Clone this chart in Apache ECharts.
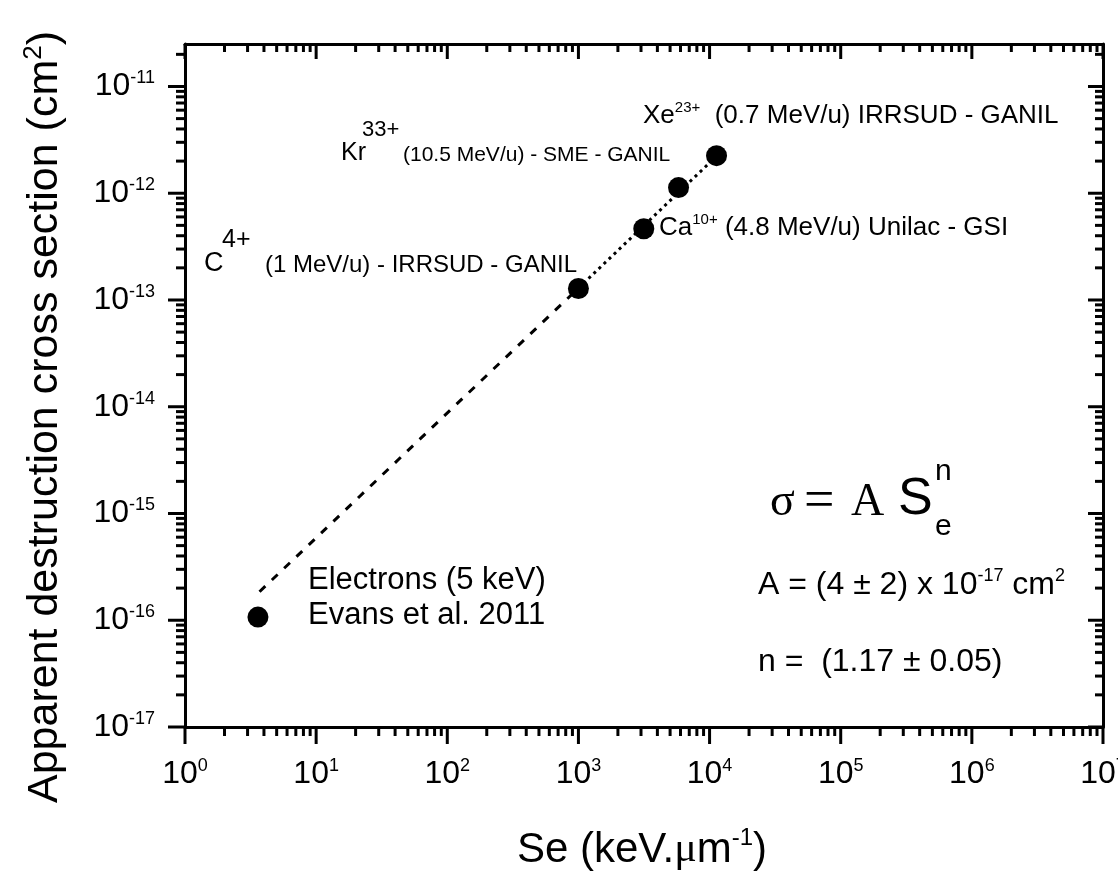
<!DOCTYPE html>
<html>
<head>
<meta charset="utf-8">
<script src="https://cdn.jsdelivr.net/npm/echarts@6/dist/echarts.min.js"></script>
<style>
html, body { margin: 0; padding: 0; background: #fff; }
#main { width: 1118px; height: 879px; }
</style>
</head>
<body>
<div id="main"></div>
<script>
// data
var electronSe = [3.6];
var electronSigma = [1.07e-16];
var ionSe = [1000, 3150, 5800, 11300];
var ionSigma = [1.28e-13, 4.65e-13, 1.13e-12, 2.25e-12];
// fit line  sigma = A Se^n  (end points)
var fitDashSe = [3.7, 1000];
var fitDashSigma = [1.85e-16, 1.29e-13];
var fitDotSe = [1000, 11200];
var fitDotSigma = [1.29e-13, 2.2e-12];
var xRange = [1, 1e7];
var yRange = [1e-17, 2.5e-11];

var FONT = 'Liberation Sans';
var SERIF = 'Liberation Serif';

function pairs(xs, ys) {
    return xs.map(function (x, i) { return [x, ys[i]]; });
}
function isDecade(v) {
    var e = Math.log10(v);
    return Math.abs(e - Math.round(e)) < 1e-6;
}
// 1..9 x 10^n inside a range, for the log tick marks
function logTicks(range) {
    var out = [];
    var lo = Math.floor(Math.log10(range[0])), hi = Math.ceil(Math.log10(range[1]));
    for (var e = lo; e <= hi; e++) {
        for (var k = 1; k <= 9; k++) {
            var v = k * Math.pow(10, e);
            if (v >= range[0] * 0.999999 && v <= range[1] * 1.000001) out.push(v);
        }
    }
    return out;
}
function expLabel(v) {
    if (!isDecade(v)) return '';
    return '10{s|' + Math.round(Math.log10(v)) + '}';
}

var tickLine = { stroke: '#000', lineWidth: 3 };

function renderXTicks(params, api) {
    var v = api.value(0);
    var b = api.coord([v, yRange[0]]);
    var t = api.coord([v, yRange[1]]);
    var major = isDecade(v);
    var lb = major ? 17 : 9, lt = major ? 15 : 8;
    return {
        type: 'group',
        children: [
            { type: 'line', shape: { x1: b[0], y1: b[1], x2: b[0], y2: b[1] + lb }, style: tickLine },
            { type: 'line', shape: { x1: t[0], y1: t[1], x2: t[0], y2: t[1] + lt }, style: tickLine }
        ]
    };
}
function renderYTicks(params, api) {
    var v = api.value(1);
    var l = api.coord([xRange[0], v]);
    var r = api.coord([xRange[1], v]);
    var major = isDecade(v);
    var ll = major ? 17 : 9, lr = major ? 15 : 8;
    return {
        type: 'group',
        children: [
            { type: 'line', shape: { x1: l[0], y1: l[1], x2: l[0] - ll, y2: l[1] }, style: tickLine },
            { type: 'line', shape: { x1: r[0], y1: r[1], x2: r[0] - lr, y2: r[1] }, style: tickLine }
        ]
    };
}

var axisLine = { show: true, lineStyle: { color: '#000', width: 3 } };
var supStyle = { fontSize: 18, fontFamily: FONT, color: '#000', padding: [0, 0, 16, 0] };

var myChart = echarts.init(document.getElementById('main'));

function txt(x, y, text, size, extra) {
    var style = {
        text: text, x: 0, y: 0, fill: '#000',
        fontSize: size, fontFamily: FONT,
        align: 'left', textAlign: 'left',
        verticalAlign: 'middle', textVerticalAlign: 'middle'
    };
    if (extra) for (var k in extra) style[k] = extra[k];
    return { type: 'text', x: x, y: y, silent: true, style: style };
}

var annSup = function (size, pad) {
    return { fontSize: size, fontFamily: FONT, fill: '#000', padding: [0, 0, pad, 0] };
};

var option = {
    animation: false,
    backgroundColor: '#fff',
    grid: { left: 185, top: 44, right: 15, bottom: 152, containLabel: false, outerBoundsMode: 'none' },
    xAxis: [
        {
            type: 'log', logBase: 10, min: xRange[0], max: xRange[1], position: 'bottom',
            axisLine: axisLine, axisTick: { show: false }, splitLine: { show: false },
            axisLabel: {
                margin: 30, color: '#000', fontSize: 32, fontFamily: FONT,
                formatter: expLabel, rich: { s: supStyle }
            }
        },
        {
            type: 'log', logBase: 10, min: xRange[0], max: xRange[1], position: 'top',
            axisLine: axisLine, axisTick: { show: false }, splitLine: { show: false },
            axisLabel: { show: false }
        }
    ],
    yAxis: [
        {
            type: 'log', logBase: 10, min: yRange[0], max: yRange[1], position: 'left',
            axisLine: axisLine, axisTick: { show: false }, splitLine: { show: false },
            axisLabel: {
                margin: 30, color: '#000', fontSize: 32, fontFamily: FONT,
                formatter: expLabel, rich: { s: supStyle }
            }
        },
        {
            type: 'log', logBase: 10, min: yRange[0], max: yRange[1], position: 'right',
            axisLine: axisLine, axisTick: { show: false }, splitLine: { show: false },
            axisLabel: { show: false }
        }
    ],
    series: [
        {
            type: 'custom', silent: true, clip: false,
            renderItem: renderXTicks,
            encode: { x: 0, y: 1 },
            data: logTicks(xRange).map(function (v) { return [v, yRange[0]]; })
        },
        {
            type: 'custom', silent: true, clip: false,
            renderItem: renderYTicks,
            encode: { x: 0, y: 1 },
            data: logTicks(yRange).map(function (v) { return [xRange[0], v]; })
        },
        {
            name: 'fit', type: 'line', symbol: 'none', silent: true,
            lineStyle: { color: '#000', width: 3, type: [8, 9] },
            data: pairs(fitDashSe, fitDashSigma)
        },
        {
            name: 'fit2', type: 'line', symbol: 'none', silent: true,
            lineStyle: { color: '#000', width: 3, type: [3, 4] },
            data: pairs(fitDotSe, fitDotSigma)
        },
        {
            name: 'Electrons', type: 'scatter', symbol: 'circle', symbolSize: 21,
            itemStyle: { color: '#000', opacity: 1 },
            data: pairs(electronSe, electronSigma)
        },
        {
            name: 'Ions', type: 'scatter', symbol: 'circle', symbolSize: 21,
            itemStyle: { color: '#000', opacity: 1 },
            data: pairs(ionSe, ionSigma)
        }
    ],
    graphic: [
        // axis titles
        {
            type: 'text', x: 45, y: 417, rotation: Math.PI / 2, silent: true,
            style: {
                text: 'Apparent destruction cross section (cm{s|2})',
                fontSize: 43, fontFamily: FONT, fill: '#000',
                align: 'center', textAlign: 'center', verticalAlign: 'middle', textVerticalAlign: 'middle',
                rich: { s: annSup(26, 22) }
            }
        },
        {
            type: 'text', x: 642, y: 850, silent: true,
            style: {
                text: 'Se (keV.{mu|\u03bc}m{s|-1})',
                fontSize: 42, fontFamily: FONT, fill: '#000',
                align: 'center', textAlign: 'center', verticalAlign: 'middle', textVerticalAlign: 'middle',
                rich: {
                    mu: { fontSize: 42, fontFamily: SERIF, fill: '#000' },
                    s: annSup(24, 24)
                }
            }
        },
        // ion labels
        txt(643, 116, 'Xe{s|23+}  (0.7 MeV/u) IRRSUD - GANIL', 26, { rich: { s: annSup(15, 16) } }),
        txt(341, 153, 'Kr', 25),
        txt(362, 130, '33+', 22),
        txt(403, 155, '(10.5 MeV/u) - SME - GANIL', 21),
        txt(659, 228, 'Ca{s|10+} (4.8 MeV/u) Unilac - GSI', 26, { rich: { s: annSup(15, 16) } }),
        txt(204, 264, 'C', 27),
        txt(222, 240, '4+', 25),
        txt(265, 265, '(1 MeV/u) - IRRSUD - GANIL', 24),
        txt(308, 580, 'Electrons (5 keV)', 31),
        txt(308, 615, 'Evans et al. 2011', 31),
        // fit formula
        txt(770, 503, '\u03c3', 46, { fontFamily: SERIF }),
        txt(804, 503, '=', 54, { fontFamily: SERIF }),
        txt(851, 503, 'A', 46, { fontFamily: SERIF }),
        txt(898, 500, 'S', 52),
        txt(935, 472, 'n', 30),
        txt(935, 527, 'e', 30),
        txt(758, 585, 'A = (4 \u00b1 2) x 10{s|-17} cm{s|2}', 32, { rich: { s: annSup(18, 18) } }),
        txt(758, 662, 'n =  (1.17 \u00b1 0.05)', 32)
    ]
};

myChart.setOption(option);
</script>
</body>
</html>
